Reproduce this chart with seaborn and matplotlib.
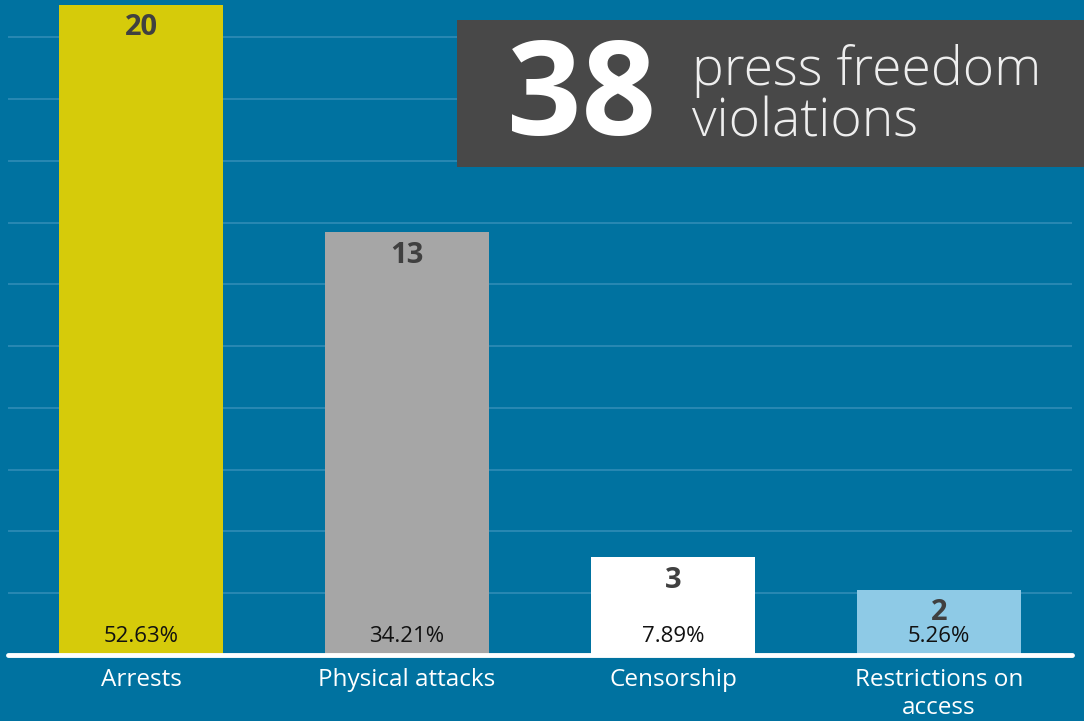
import numpy as np
import pandas as pd
import matplotlib
matplotlib.use('Agg')
import matplotlib.pyplot as plt
import seaborn as sns

# data
categories = ['Arrests', 'Physical attacks', 'Censorship', 'Restrictions on\naccess']
counts = [20, 13, 3, 2]
percents = ['52.63%', '34.21%', '7.89%', '5.26%']
bar_colors = ['#D6CB0A', '#A6A6A6', '#FFFFFF', '#8ECAE6']
total = 38
headline = 'press freedom\nviolations'

bg = '#0072A0'

sns.set_theme(style='white')
plt.rcParams['font.family'] = ['Open Sans', 'DejaVu Sans']

df = pd.DataFrame({'category': categories, 'count': counts})

fig = plt.figure(figsize=(10.84, 7.21), dpi=100)
fig.patch.set_facecolor(bg)
ax = fig.add_axes([8 / 1084, 66 / 721, 1064 / 1084, 655 / 721])
ax.set_facecolor(bg)

sns.barplot(data=df, x='category', y='count', hue='category', palette=bar_colors,
            legend=False, width=0.617, saturation=1, linewidth=0, ax=ax, zorder=3)

ax.set_xlim(-0.5, 3.5)
ax.set_ylim(0, 20.15)

# light grid lines
ax.set_yticks(np.arange(1.9, 20, 1.9))
ax.yaxis.grid(True, color='#2C8AB5', linewidth=1.3, zorder=0)
ax.set_yticklabels([])
ax.tick_params(axis='y', length=0)
ax.axhline(0, color='white', linewidth=3.5, zorder=4, clip_on=False)

for s in ax.spines.values():
    s.set_visible(False)

ax.set_xlabel('')
ax.set_ylabel('')
ax.tick_params(axis='x', length=0, colors='white', labelsize=17.5, pad=9)
for lab in ax.get_xticklabels():
    lab.set_linespacing(1.25)
    lab.set_verticalalignment('top')

for i, (c, p) in enumerate(zip(counts, percents)):
    ax.annotate(str(c), xy=(i, c), xytext=(0, -6), textcoords='offset points',
                ha='center', va='top', fontsize=21, fontweight='bold',
                color='#404040', zorder=5)
    ax.annotate(p, xy=(i, 0), xytext=(0, 5.5), textcoords='offset points',
                ha='center', va='bottom', fontsize=16, color='#111111', zorder=5)

# headline box
fig.patches.append(plt.Rectangle((457 / 1084, 1 - 167 / 721), 627 / 1084, 147 / 721,
                                 transform=fig.transFigure, facecolor='#484848',
                                 edgecolor='none', zorder=10))
fig.text(581 / 1084, 1 - 101 / 721, str(total), ha='center', va='center',
         fontsize=94, fontweight='bold', color='white', zorder=11)
fig.text(692 / 1084, 1 - 97 / 721, headline, ha='left', va='center',
         fontsize=38.5, fontweight='light', color='#EEEEEE', linespacing=0.95, zorder=11)

fig.savefig('out.png', dpi=100, facecolor=bg)
